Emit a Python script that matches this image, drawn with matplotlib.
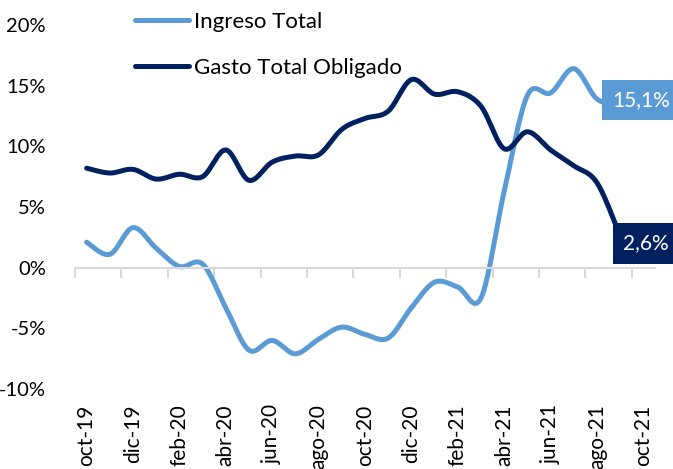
import numpy as np
import matplotlib
matplotlib.use("Agg")
import matplotlib.pyplot as plt
from matplotlib.ticker import FixedLocator, FuncFormatter

months = ["oct-19", "nov-19", "dic-19", "ene-20", "feb-20", "mar-20", "abr-20", "may-20",
          "jun-20", "jul-20", "ago-20", "sep-20", "oct-20", "nov-20", "dic-20", "ene-21",
          "feb-21", "mar-21", "abr-21", "may-21", "jun-21", "jul-21", "ago-21", "sep-21",
          "oct-21"]
ingreso = [2.1, 1.1, 3.3, 1.6, 0.1, 0.3, -3.3, -6.8, -6.0, -7.1, -5.9, -4.9, -5.5,
           -5.8, -3.3, -1.2, -1.6, -2.5, 6.3, 14.2, 14.4, 16.4, 13.9, 13.4]
gasto = [8.2, 7.8, 8.1, 7.3, 7.7, 7.5, 9.7, 7.2, 8.7, 9.2, 9.3, 11.4, 12.3, 12.9,
         15.5, 14.3, 14.5, 13.3, 9.8, 11.2, 9.7, 8.4, 7.0, 2.6]
label_ingreso = "15,1%"
label_gasto = "2,6%"
yticks = [-10, -5, 0, 5, 10, 15, 20]

c_light = "#5B9BD5"
c_dark = "#002060"

plt.rcParams['font.family'] = ['Lato', 'DejaVu Sans']


def smooth(y, n=20):
    p = np.asarray(y, dtype=float)
    x = np.arange(len(p), dtype=float)
    xs, ys = [], []
    for i in range(len(p) - 1):
        i0, i3 = max(i - 1, 0), min(i + 2, len(p) - 1)
        t = np.linspace(0, 1, n, endpoint=False)
        for arr, out in ((x, xs), (p, ys)):
            P0, P1, P2, P3 = arr[i0], arr[i], arr[i + 1], arr[i3]
            c1 = P1 + (P2 - P0) / 6.0
            c2 = P2 - (P3 - P1) / 6.0
            out.extend((1 - t) ** 3 * P1 + 3 * (1 - t) ** 2 * t * c1
                       + 3 * (1 - t) * t ** 2 * c2 + t ** 3 * P2)
    xs.append(x[-1]); ys.append(p[-1])
    return np.array(xs), np.array(ys)


W, H = 673, 469
fig = plt.figure(figsize=(W / 100, H / 100), dpi=100)
ax = fig.add_axes([75 / W, (H - 389) / H, 580 / W, 364 / H])

xi, yi = smooth(ingreso)
xg, yg = smooth(gasto)
l1, = ax.plot(xi, yi, color=c_light, lw=3.6, solid_capstyle='round', label="Ingreso Total")
l2, = ax.plot(xg, yg, color=c_dark, lw=3.6, solid_capstyle='round', label="Gasto Total Obligado")

ax.set_xlim(-0.5, len(months) - 0.5)
ax.set_ylim(-10, 20)

for s in ['left', 'right', 'bottom']:
    ax.spines[s].set_visible(False)
ax.spines['top'].set_position(('data', 0))
ax.spines['top'].set_color('#D9D9D9')
ax.spines['top'].set_linewidth(1.5)

ax.xaxis.set_major_locator(FixedLocator(list(range(0, len(months), 2))))
ax.set_xticklabels(months[::2], rotation=90, fontsize=15, color='black')
ax.xaxis.set_minor_locator(FixedLocator([b - 0.5 for b in range(0, len(months), 2)]))
ax.tick_params(axis='x', which='major', length=0, pad=11, top=False, bottom=True)
ax.tick_params(axis='x', which='minor', top=True, bottom=False, direction='in',
               length=7, width=1.5, color='#D9D9D9')

ax.set_yticks(yticks)
ax.yaxis.set_major_formatter(FuncFormatter(lambda v, p: f"{int(v)}%"))
ax.tick_params(axis='y', length=0, pad=21, labelsize=14.5)

ax.annotate(label_ingreso, xy=(len(ingreso) - 1, ingreso[-1]), xytext=(-8, 5),
            textcoords='offset pixels', ha='left', va='center', fontsize=15, color='white',
            bbox=dict(boxstyle='square,pad=0.5', fc=c_light, ec='none'), zorder=5,
            annotation_clip=False)
ax.annotate(label_gasto, xy=(len(gasto) - 1, gasto[-1]), xytext=(3, -7),
            textcoords='offset pixels', ha='left', va='center', fontsize=15, color='white',
            bbox=dict(boxstyle='square,pad=0.5', fc=c_dark, ec='none'), zorder=5,
            annotation_clip=False)

fig.legend(handles=[l1, l2], loc='upper left', bbox_to_anchor=(135 / W, 1 - 12 / H),
           frameon=False, fontsize=16, handlelength=2.45, handletextpad=0.2,
           labelspacing=1.15, borderpad=0, borderaxespad=0)

fig.savefig("out.png", dpi=100)
